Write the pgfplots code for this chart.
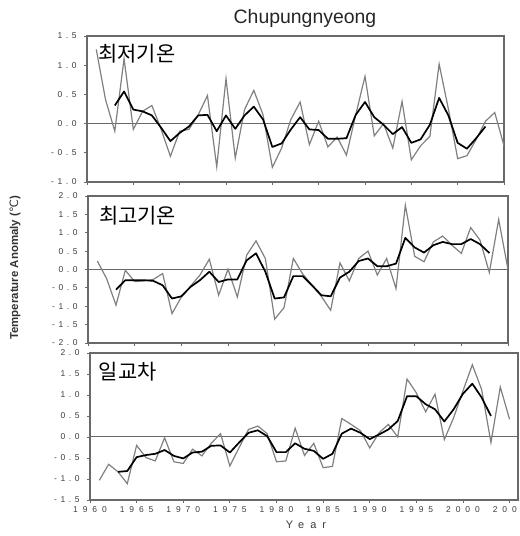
\documentclass[border=0pt]{standalone}
\usepackage{pgfplots}
\pgfplotsset{compat=1.18}
\usepackage{pgfplotstable}
\usepackage{fontspec}
\setmainfont{Liberation Sans}
\newfontfamily\kr{Noto Sans CJK KR}
\newfontfamily\spc[LetterSpace=58]{Liberation Sans}
\newfontfamily\spy[LetterSpace=42]{Liberation Sans}
\newfontfamily\spr[LetterSpace=55]{Liberation Sans}
\newfontfamily\dv{DejaVu Sans}
\definecolor{frm}{RGB}{105,105,105}
\definecolor{raw}{RGB}{128,128,128}
\definecolor{tk}{RGB}{60,60,60}

\pgfplotstableread{
year raw ma
1961 1.27 nan
1962 0.41 nan
1963 -0.13 0.31
1964 1.11 0.55
1965 -0.10 0.24
1966 0.21 0.21
1967 0.31 0.14
1968 -0.10 -0.07
1969 -0.56 -0.30
1970 -0.13 -0.16
1971 -0.10 -0.05
1972 0.15 0.14
1973 0.48 0.15
1974 -0.74 -0.13
1975 0.77 0.14
1976 -0.59 -0.09
1977 0.24 0.14
1978 0.57 0.29
1979 0.15 0.07
1980 -0.75 -0.40
1981 -0.42 -0.34
1982 0.07 -0.10
1983 0.37 0.11
1984 -0.36 -0.10
1985 0.04 -0.11
1986 -0.40 -0.26
1987 -0.23 -0.26
1988 -0.54 -0.25
1989 0.15 0.15
1990 0.81 0.37
1991 -0.21 0.11
1992 0.00 -0.02
1993 -0.42 -0.18
1994 0.38 -0.06
1995 -0.62 -0.33
1996 -0.38 -0.27
1997 -0.22 -0.02
1998 1.02 0.44
1999 0.25 0.14
2000 -0.60 -0.33
2001 -0.55 -0.43
2002 -0.27 -0.25
2003 0.04 -0.05
2004 0.19 nan
2005 -0.38 nan
}\tmin

\pgfplotstableread{
year raw ma
1961 0.23 nan
1962 -0.25 nan
1963 -0.97 -0.55
1964 -0.02 -0.29
1965 -0.33 -0.29
1966 -0.31 -0.29
1967 -0.27 -0.31
1968 -0.11 -0.43
1969 -1.20 -0.79
1970 -0.75 -0.73
1971 -0.45 -0.47
1972 -0.15 -0.29
1973 0.28 -0.06
1974 -0.70 -0.34
1975 0.01 -0.27
1976 -0.75 -0.27
1977 0.39 0.25
1978 0.78 0.44
1979 0.30 -0.06
1980 -1.35 -0.79
1981 -1.04 -0.76
1982 0.30 -0.18
1983 -0.12 -0.18
1984 -0.43 -0.43
1985 -0.73 -0.70
1986 -1.11 -0.73
1987 0.18 -0.22
1988 -0.31 -0.06
1989 0.30 0.23
1990 0.50 0.30
1991 -0.15 0.09
1992 0.30 0.09
1993 -0.52 0.16
1994 1.75 0.86
1995 0.36 0.60
1996 0.21 0.46
1997 0.75 0.66
1998 0.91 0.75
1999 0.66 0.69
2000 0.44 0.69
2001 1.14 0.83
2002 0.80 0.69
2003 -0.08 0.45
2004 1.36 nan
2005 0.00 nan
}\tmax

\pgfplotstableread{
year raw ma
1961 -1.03 nan
1962 -0.65 nan
1963 -0.83 -0.83
1964 -1.11 -0.81
1965 -0.20 -0.48
1966 -0.49 -0.43
1967 -0.57 -0.40
1968 -0.02 -0.31
1969 -0.59 -0.45
1970 -0.63 -0.51
1971 -0.29 -0.37
1972 -0.45 -0.35
1973 -0.15 -0.21
1974 0.08 -0.20
1975 -0.69 -0.37
1976 -0.25 -0.13
1977 0.18 0.10
1978 0.26 0.16
1979 0.08 0.02
1980 -0.59 -0.36
1981 -0.57 -0.36
1982 0.21 -0.15
1983 -0.44 -0.28
1984 -0.15 -0.33
1985 -0.73 -0.52
1986 -0.70 -0.40
1987 0.44 0.08
1988 0.30 0.20
1989 0.15 0.10
1990 -0.26 -0.05
1991 0.10 0.06
1992 0.30 0.18
1993 0.00 0.38
1994 1.38 0.97
1995 1.05 0.97
1996 0.60 0.78
1997 1.02 0.66
1998 -0.06 0.37
1999 0.46 0.66
2000 1.10 1.03
2001 1.72 1.27
2002 1.13 0.94
2003 -0.13 0.50
2004 1.19 nan
2005 0.42 nan
}\tdtr

\pgfplotsset{
  panel/.style={
    scale only axis,
    xmin=1960,
    xtick={1960,1965,...,2005},
    axis line style={draw=frm, line width=1.1bp},
    tick style={draw=frm, line width=0.8bp},
    tick align=outside,
    major tick length=3bp,
    xtick pos=left, ytick pos=left,
    yticklabel style={font=\spy\fontsize{8.5}{9}\selectfont, text=tk, xshift=-4bp},
    xticklabel style={font=\spc\fontsize{8.5}{9}\selectfont, text=tk},
  },
  rawline/.style={draw=raw, line width=1.2bp},
  maline/.style={draw=black, line width=1.7bp, line join=round},
  zline/.style={draw=frm, line width=1bp},
}

\begin{document}
\begin{tikzpicture}
\useasboundingbox (0bp,0bp) rectangle (520bp,536bp);

% top panel
\begin{axis}[panel, at={(87bp,354bp)}, anchor=south west, width=417bp, height=146bp,
  xmax=2005, ymin=-1, ymax=1.5, ytick={-1,-0.5,0,0.5,1,1.5},
  yticklabels={-1.0,-0.5,0.0,0.5,1.0,1.5}, xticklabels={}]
\addplot[zline] coordinates {(1960,0) (2006,0)};
\addplot[rawline] table[x=year, y=raw] {\tmin};
\addplot[maline] table[x=year, y=ma] {\tmin};
\node[anchor=west, font=\kr\fontsize{21}{22}\selectfont, inner sep=0pt] at (rel axis cs:0.027,0.88) {최저기온};
\end{axis}

% middle panel
\begin{axis}[panel, at={(88bp,193bp)}, anchor=south west, width=420bp, height=147bp,
  xmax=2005, ymin=-2, ymax=2, ytick={-2,-1.5,...,2},
  yticklabels={-2.0,-1.5,-1.0,-0.5,0.0,0.5,1.0,1.5,2.0}, xticklabels={}]
\addplot[zline] coordinates {(1960,0) (2006,0)};
\addplot[rawline] table[x=year, y=raw] {\tmax};
\addplot[maline] table[x=year, y=ma] {\tmax};
\node[anchor=west, font=\kr\fontsize{21}{22}\selectfont, inner sep=0pt] at (rel axis cs:0.026,0.864) {최고기온};
\end{axis}

% bottom panel
\begin{axis}[panel, at={(90bp,36bp)}, anchor=south west, width=428bp, height=147bp,
  xmax=2005.9, ymin=-1.5, ymax=2, ytick={-1.5,-1,...,2},
  yticklabels={-1.5,-1.0,-0.5,0.0,0.5,1.0,1.5,2.0},
  xticklabels={1960,1965,1970,1975,1980,1985,1990,1995,2000,2005}]
\addplot[zline] coordinates {(1960,0) (2006,0)};
\addplot[rawline] table[x=year, y=raw] {\tdtr};
\addplot[maline] table[x=year, y=ma] {\tdtr};
\node[anchor=west, font=\kr\fontsize{21}{22}\selectfont, inner sep=0pt] at (rel axis cs:0.02,0.87) {일교차};
\end{axis}

\node[font=\fontsize{19.5}{20}\selectfont, text=black!85] at (305bp,518bp) {Chupungnyeong};
\node[rotate=90, font=\bfseries\fontsize{11.5}{12}\selectfont, text=black!80] at (15bp,268bp) {Temperature Anomaly ({\dv\mdseries ℃})};
\node[font=\spr\fontsize{11}{11}\selectfont, text=tk] at (306bp,11bp) {Year};
\end{tikzpicture}
\end{document}
